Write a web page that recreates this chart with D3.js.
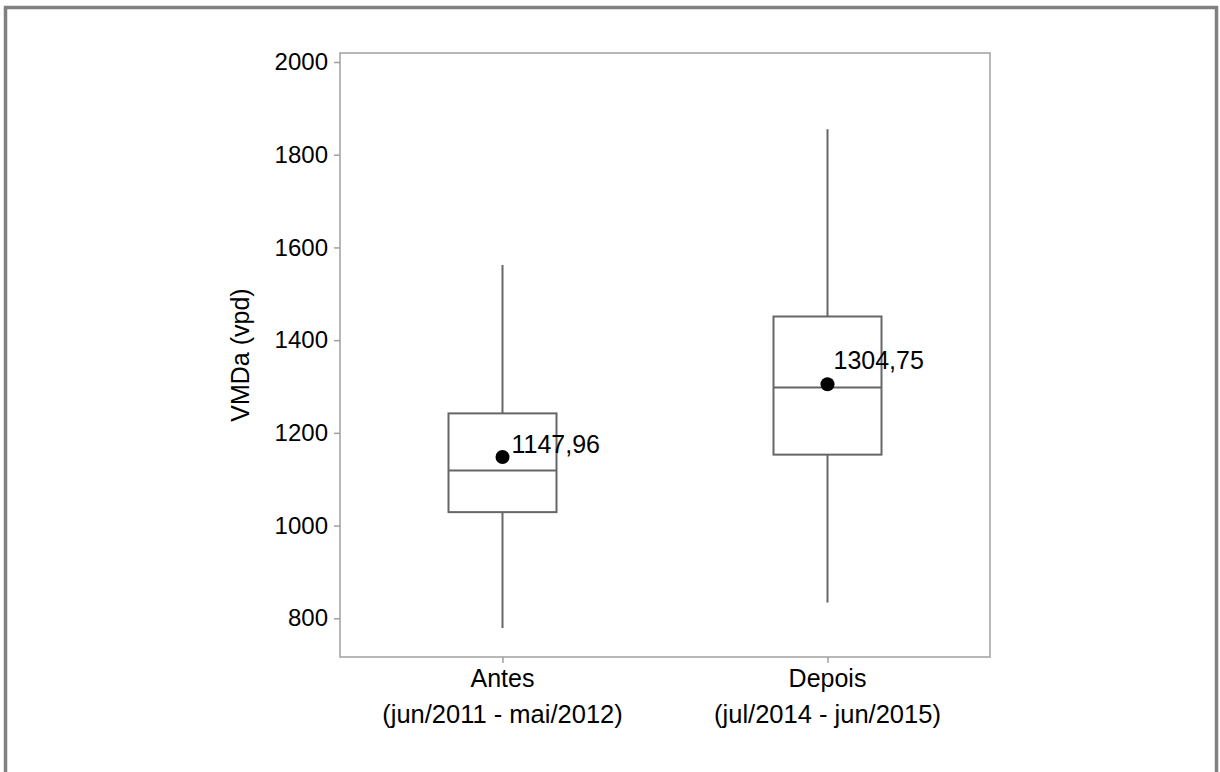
<!DOCTYPE html>
<html>
<head>
<meta charset="utf-8">
<script src="https://cdn.jsdelivr.net/npm/d3@7"></script>
<style>
  html, body { margin: 0; padding: 0; background: #fff; }
  svg { display: block; }
  text { font-family: "Liberation Sans", Arial, sans-serif; fill: #000; }
</style>
</head>
<body>
<svg id="chart" width="1220" height="772"></svg>
<script>
// ---- Data ----
const categories = ["Antes", "Depois"];
const periods = ["(jun/2011 - mai/2012)", "(jul/2014 - jun/2015)"];
const whiskerLow = [779, 834];
const q1 = [1029, 1153];
const median = [1119, 1298];
const q3 = [1242, 1451];
const whiskerHigh = [1562, 1855];
const means = [1147.96, 1304.75];
const meanLabels = ["1147,96", "1304,75"];
const yTicks = [800, 1000, 1200, 1400, 1600, 1800, 2000];
const yTitle = "VMDa (vpd)";

// ---- Layout ----
const svg = d3.select("#chart");
const plot = { left: 340, right: 990, top: 53, bottom: 657 };
const axisColor = "#a0a0a0";
const boxColor = "#666666";

// outer frame
svg.append("rect")
  .attr("x", 5.5).attr("y", 7.5)
  .attr("width", 1211).attr("height", 800)
  .attr("fill", "none").attr("stroke", "#808080").attr("stroke-width", 3.5);

const x = d3.scalePoint().domain(categories).range([plot.left, plot.right]).padding(0.5);
const y = d3.scaleLinear().domain([716.5, 2019.4]).range([plot.bottom, plot.top]);

// plot frame
svg.append("rect")
  .attr("x", plot.left).attr("y", plot.top)
  .attr("width", plot.right - plot.left).attr("height", plot.bottom - plot.top)
  .attr("fill", "none").attr("stroke", axisColor).attr("stroke-width", 1.5);

// y axis
const yAxis = svg.append("g")
  .attr("transform", `translate(${plot.left},0)`)
  .call(d3.axisLeft(y).tickValues(yTicks).tickSize(6).tickPadding(6).tickFormat(d3.format("d")));
yAxis.select(".domain").remove();
yAxis.selectAll(".tick line").attr("stroke", axisColor).attr("stroke-width", 1.5);
yAxis.selectAll(".tick text").attr("font-size", 24).style("font-family", '"Liberation Sans", Arial, sans-serif').attr("fill", "#000");

// x axis
const xAxis = svg.append("g")
  .attr("transform", `translate(0,${plot.bottom})`)
  .call(d3.axisBottom(x).tickSize(6).tickFormat(""));
xAxis.select(".domain").remove();
xAxis.selectAll(".tick line").attr("stroke", axisColor).attr("stroke-width", 1.5);

const xl = svg.append("g");
categories.forEach((c, i) => {
  xl.append("text").attr("x", x(c)).attr("y", 687).attr("text-anchor", "middle")
    .attr("font-size", 25).text(c);
  xl.append("text").attr("x", x(c)).attr("y", 723).attr("text-anchor", "middle")
    .attr("font-size", 25.5).text(periods[i]);
});

// y title
svg.append("text")
  .attr("transform", `translate(249,${(plot.top + plot.bottom) / 2}) rotate(-90)`)
  .attr("text-anchor", "middle").attr("font-size", 25).text(yTitle);

// boxes
const boxW = 108;
const g = svg.append("g").attr("stroke", boxColor).attr("stroke-width", 2).attr("fill", "none");
categories.forEach((c, i) => {
  const cx = x(c);
  g.append("line").attr("x1", cx).attr("x2", cx).attr("y1", y(whiskerHigh[i])).attr("y2", y(q3[i]));
  g.append("line").attr("x1", cx).attr("x2", cx).attr("y1", y(q1[i])).attr("y2", y(whiskerLow[i]));
  g.append("rect").attr("x", cx - boxW / 2).attr("y", y(q3[i]))
    .attr("width", boxW).attr("height", y(q1[i]) - y(q3[i]));
  g.append("line").attr("x1", cx - boxW / 2).attr("x2", cx + boxW / 2)
    .attr("y1", y(median[i])).attr("y2", y(median[i]));
});

// means
const labelOffsets = [[9, -4], [6, -15]];
categories.forEach((c, i) => {
  svg.append("circle").attr("cx", x(c)).attr("cy", y(means[i])).attr("r", 7).attr("fill", "#000");
  svg.append("text").attr("x", x(c) + labelOffsets[i][0]).attr("y", y(means[i]) + labelOffsets[i][1])
    .attr("font-size", 25).text(meanLabels[i]);
});
</script>
</body>
</html>
